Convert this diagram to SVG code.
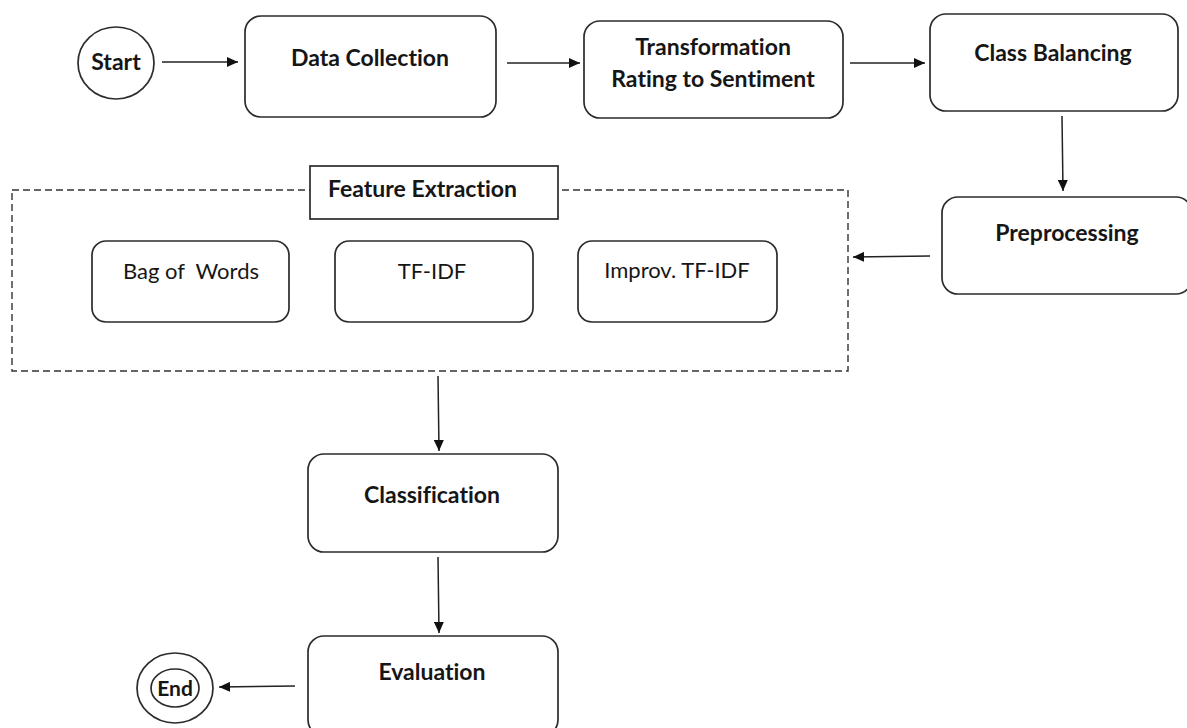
<svg xmlns="http://www.w3.org/2000/svg" width="1187" height="728" viewBox="0 0 1187 728">
<defs>
<marker id="ah" viewBox="0 0 11 10" refX="11" refY="5" markerWidth="11" markerHeight="10" markerUnits="userSpaceOnUse" orient="auto">
<path d="M0,0 L11,5 L0,10 z" fill="#111"/>
</marker>
<style>
.box{fill:#fff;stroke:#2b2b2b;stroke-width:1.7}
.t{font-family:Lato,"Liberation Sans",sans-serif;font-size:23px;fill:#161616;text-anchor:middle;font-variant-ligatures:none}
.r{font-size:22px}
.b{font-weight:bold}
.c{stroke:#222;stroke-width:1.5;fill:none;marker-end:url(#ah)}
</style>
</defs>
<rect width="1187" height="728" fill="#fff"/>
<g id="start">
<ellipse class="box" cx="116" cy="63" rx="38" ry="36"/>
<text class="t b" x="116" y="70">Start</text>
</g>
<g id="data-collection">
<rect class="box" x="245" y="16" width="251" height="101" rx="16"/>
<text class="t b" x="370" y="66">Data Collection</text>
</g>
<g id="transformation">
<rect class="box" x="584" y="21" width="259" height="97" rx="16"/>
<text class="t b" x="713" y="55">Transformation</text>
<text class="t b" x="713" y="87">Rating to Sentiment</text>
</g>
<g id="class-balancing">
<rect class="box" x="930" y="14" width="248" height="97" rx="16"/>
<text class="t b" x="1053" y="61">Class Balancing</text>
</g>
<g id="preprocessing">
<rect class="box" x="942" y="197" width="250" height="97" rx="16"/>
<text class="t b" x="1067" y="241">Preprocessing</text>
</g>
<g id="feature-extraction">
<rect x="12" y="190" width="836" height="181" fill="none" stroke="#333" stroke-width="1.4" stroke-dasharray="7,4"/>
<rect x="310" y="166" width="248" height="53" fill="#fff" stroke="#2b2b2b" stroke-width="1.7"/>
<text class="t b" x="328" y="197" style="text-anchor:start">Feature Extraction</text>
</g>
<g id="bag-of-words">
<rect class="box" x="92" y="241" width="197" height="81" rx="14"/>
<text class="t r" x="191" y="279" xml:space="preserve">Bag of  Words</text>
</g>
<g id="tf-idf">
<rect class="box" x="335" y="241" width="198" height="81" rx="14"/>
<text class="t r" x="432" y="279">TF-IDF</text>
</g>
<g id="improv-tf-idf">
<rect class="box" x="578" y="241" width="199" height="81" rx="14"/>
<text class="t r" x="677" y="278">Improv. TF-IDF</text>
</g>
<g id="classification">
<rect class="box" x="308" y="454" width="250" height="98" rx="16"/>
<text class="t b" x="432" y="503">Classification</text>
</g>
<g id="evaluation">
<rect class="box" x="308" y="636" width="250" height="100" rx="16"/>
<text class="t b" x="432" y="680">Evaluation</text>
</g>
<g id="end">
<ellipse class="box" cx="175" cy="688" rx="38" ry="35"/>
<ellipse class="box" cx="175" cy="688" rx="24" ry="19"/>
<text class="t b" x="175" y="696" style="font-size:21px">End</text>
</g>
<g id="connectors">
<line class="c" x1="162" y1="62" x2="238" y2="62"/>
<line class="c" x1="507" y1="63" x2="580" y2="63"/>
<line class="c" x1="850" y1="63" x2="925" y2="63"/>
<line class="c" x1="1062" y1="116" x2="1063" y2="191"/>
<line class="c" x1="930" y1="256" x2="853" y2="257"/>
<line class="c" x1="438" y1="376" x2="439" y2="451"/>
<line class="c" x1="438" y1="557" x2="439" y2="633"/>
<line class="c" x1="295" y1="686" x2="219" y2="687"/>
</g>
</svg>
